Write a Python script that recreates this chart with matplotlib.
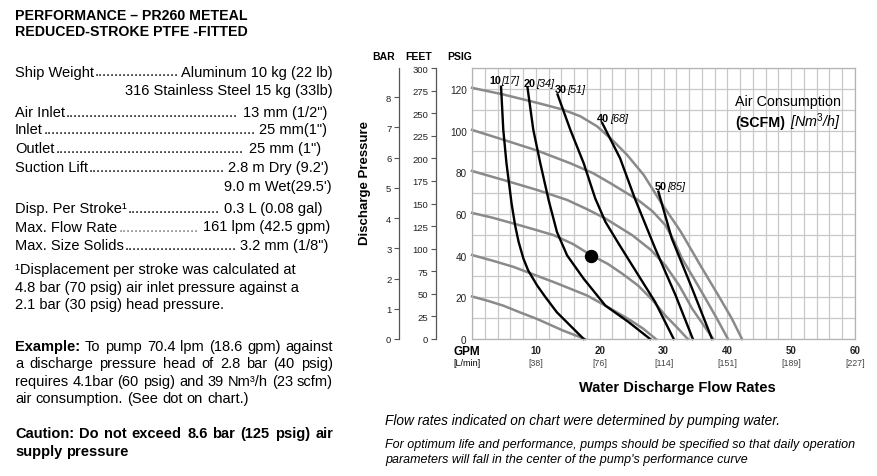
import matplotlib
matplotlib.use('Agg')
import matplotlib.pyplot as plt

plt.rcParams['font.family'] = ['Liberation Sans', 'DejaVu Sans']
plt.rcParams['mathtext.fontset'] = 'custom'
plt.rcParams['mathtext.rm'] = 'Liberation Sans'
plt.rcParams['mathtext.it'] = 'Liberation Sans:italic'
plt.rcParams['mathtext.bf'] = 'Liberation Sans:bold'

W, H = 877, 477

# ---- axis ticks ----
gpm_ticks = [10, 20, 30, 40, 50, 60]
lpm_labels = ['[38]', '[76]', '[114]', '[151]', '[189]', '[227]']
psig_ticks = [0, 20, 40, 60, 80, 100, 120]
bar_ticks = [0, 1, 2, 3, 4, 5, 6, 7, 8]
feet_ticks = [0, 25, 50, 75, 100, 125, 150, 175, 200, 225, 250, 275, 300]

# ---- air inlet pressure curves (grey), gpm vs psig ----
p20_gpm = [0, 2.5, 4.9, 7.5, 10.2, 14.3, 17.7]
p20_psig = [20.4, 18.3, 16.0, 12.8, 9.6, 4.0, 0]
p40_gpm = [0, 3.2, 6.5, 9.6, 12.8, 15.5, 18.0, 20.9, 24.5, 26.8, 28.8]
p40_psig = [40.3, 37.6, 34.6, 31.0, 27.3, 24.0, 20.9, 16.0, 9.6, 5.0, 0]
p60_gpm = [0, 3.2, 6.5, 9.6, 12.8, 15.8, 18.6, 21.3, 23.6, 26.0, 28.3, 30.3, 32.1, 33.8]
p60_psig = [60.5, 58.2, 55.4, 52.7, 49.8, 45.6, 40.3, 36.0, 31.2, 25.7, 18.6, 11.2, 5.6, 0]
p80_gpm = [0, 4.9, 10.2, 14.9, 18.0, 20.9, 25.1, 28.0, 30.3, 32.5, 34.5, 36.2, 37.8]
p80_psig = [80.6, 76.3, 71.5, 66.7, 62.3, 57.8, 49.8, 42.8, 35.3, 25.5, 14.5, 7.0, 0]
p100_gpm = [0, 4.9, 10.2, 15.4, 19.0, 21.7, 26.0, 28.3, 30.3, 31.7, 32.9, 34.8, 36.6, 38.4, 40.1]
p100_psig = [100.3, 95.6, 90.4, 84.3, 79.5, 74.7, 66.7, 61.2, 54.6, 46.8, 38.6, 28.8, 19.3, 9.6, 0]
p120_gpm = [0, 4.9, 10.2, 14.3, 17.0, 19.6, 22.0, 24.3, 26.9, 29.5, 32.7, 35.8, 38.9, 40.7, 42.3]
p120_psig = [120.5, 117.3, 113.3, 110.0, 106.8, 102.0, 95.4, 88.3, 78.7, 66.0, 51.5, 35.2, 19.3, 9.8, 0]

# ---- air consumption curves (black), gpm vs psig ----
s10_gpm = [4.55, 4.9, 5.4, 6.2, 6.75, 7.3, 8.05, 8.8, 10.2, 11.5, 13.3, 15.4, 17.5]
s10_psig = [121.0, 100.4, 84.3, 65.0, 54.6, 46.6, 38.6, 32.9, 25.7, 20.1, 12.8, 6.4, 0]
s20_gpm = [8.7, 9.6, 10.7, 12.0, 13.3, 14.9, 17.5, 20.9, 24.5, 27.9]
s20_psig = [120.5, 100.4, 84.3, 66.7, 51.4, 40.1, 28.9, 16.0, 8.2, 0]
s30_gpm = [13.4, 15.4, 17.5, 19.3, 20.9, 23.0, 25.1, 28.7, 31.6]
s30_psig = [117.3, 100.4, 84.3, 67.5, 56.2, 45.6, 35.3, 17.7, 0]
s40_gpm = [20.4, 23.2, 25.5, 28.7, 31.9, 34.6]
s40_psig = [103.6, 86.7, 67.5, 43.4, 20.9, 0]
s50_gpm = [29.2, 31.3, 34.5, 37.6]
s50_psig = [70.7, 48.2, 24.1, 0]
scfm_names = ['10', '20', '30', '40', '50']
nm3h_names = ['[17]', '[34]', '[51]', '[68]', '[85]']

# example operating point
dot_gpm = 18.6
dot_psig = 40

# ---- spec text ----
title_lines = ['PERFORMANCE \u2013 PR260 METEAL', 'REDUCED-STROKE PTFE -FITTED']
spec_labels = ['Ship Weight', 'Air Inlet', 'Inlet', 'Outlet', 'Suction Lift',
               'Disp. Per Stroke\u00b9', 'Max. Flow Rate', 'Max. Size Solids']
spec_values = ['Aluminum 10 kg (22 lb)', '13 mm (1/2")', '25 mm(1")', '25 mm (1")',
               "2.8 m Dry (9.2')", '0.3 L (0.08 gal)', '161 lpm (42.5 gpm)', '3.2 mm (1/8")']
spec_extra = ['316 Stainless Steel 15 kg (33lb)', "9.0 m Wet(29.5')"]
footnote = ['\u00b9Displacement per stroke was calculated at',
            '4.8 bar (70 psig) air inlet pressure against a',
            '2.1 bar (30 psig) head pressure.']
example = ['To pump 70.4 lpm (18.6 gpm) against',
           'a discharge pressure head of 2.8 bar (40 psig)',
           'requires 4.1bar (60 psig) and 39 Nm\u00b3/h (23 scfm)',
           'air consumption. (See dot on chart.)']
caution = ['Caution: Do not exceed 8.6 bar (125 psig) air', 'supply pressure']
notes = ['Flow rates indicated on chart were determined by pumping water.',
         'For optimum life and performance, pumps should be specified so that daily operation',
         "parameters will fall in the center of the pump's performance curve"]

fig = plt.figure(figsize=(W / 100, H / 100), dpi=100)
rend = fig.canvas.get_renderer()


def px(x, y):
    return x / W, 1 - y / H


def width(s, **kw):
    t = fig.text(0, 0, s, **kw)
    w = t.get_window_extent(rend).width
    t.remove()
    return w


def put(x, y, s, **kw):
    return fig.text(*px(x, y), s, va='baseline', **kw)


def words_line(x, y, runs, right=None, size=10.5):
    items = []
    for text, kw in runs:
        for w in text.split(' '):
            if w:
                items.append((w, dict(kw, fontsize=size)))
    widths = [width(w, **kw) for w, kw in items]
    sp = width('a a', fontsize=size) - width('aa', fontsize=size)
    if right is not None and len(items) > 1:
        sp = (right - x - sum(widths)) / (len(items) - 1)
    cx = x
    for (w, kw), wd in zip(items, widths):
        put(cx, y, w, **kw)
        cx += wd + sp


def leader(y, label, value, right, size=10.5, dotcolor='black'):
    put(15, y, label, fontsize=size)
    put(right, y, value, fontsize=size, ha='right')
    x0 = 15 + width(label, fontsize=size) + 1
    x1 = right - width(value, fontsize=size) - 2
    dot = (width('.' * 41, fontsize=size) - width('.', fontsize=size)) / 40
    n = int((x1 - x0) / dot)
    put(x0, y, '.' * n, fontsize=size, color=dotcolor)


B = dict(fontweight='bold')
N = dict()

# ---- left text block ----
put(15, 20, title_lines[0], fontsize=10.2, fontweight='bold')
put(15, 35.7, title_lines[1], fontsize=10.2, fontweight='bold')

spec_y = [76.5, 116.7, 134, 153, 172, 213, 231.5, 250]
spec_right = [333, 327, 327, 321, 329, 323, 330, 328]
for i, (lab, val, y, r) in enumerate(zip(spec_labels, spec_values, spec_y, spec_right)):
    leader(y, lab, val, r, dotcolor='#777' if i == 6 else 'black')
put(333, 95, spec_extra[0], fontsize=10.5, ha='right')
put(332, 191.5, spec_extra[1], fontsize=10.5, ha='right')

for line, y in zip(footnote, [274, 291.7, 309]):
    put(15, y, line, fontsize=10.5)

words_line(15, 350.7, [('Example:', B), (example[0], N)], right=333)
words_line(15, 368.3, [(example[1], N)], right=333)
words_line(15, 386, [(example[2], N)], right=333)
words_line(15, 403.3, [(example[3], N)])
words_line(15, 438.3, [(caution[0], B)], right=333)
words_line(15, 456, [(caution[1], B)])

# ---- chart ----
ax = fig.add_axes([472 / W, 1 - 340 / H, 383 / W, 271 / H])
ax.set_xlim(0, 60)
ax.set_ylim(0, 130)
ax.set_xticks(gpm_ticks)
ax.set_xticks(range(0, 61, 2), minor=True)
ax.set_yticks(psig_ticks)
ax.set_yticks(range(0, 131, 10), minor=True)
ax.grid(which='both', color='#c8c8c8', lw=0.9)
ax.set_axisbelow(True)
ax.tick_params(which='both', length=0)
ax.tick_params(axis='x', labelbottom=False)
ax.tick_params(axis='y', labelsize=7.2, pad=3.8, labelcolor='#222')
for s in ax.spines.values():
    s.set_color('#b4b4b4')
    s.set_linewidth(0.9)

grey = '#8a8a8a'
for g, p in [(p20_gpm, p20_psig), (p40_gpm, p40_psig), (p60_gpm, p60_psig),
             (p80_gpm, p80_psig), (p100_gpm, p100_psig), (p120_gpm, p120_psig)]:
    ax.plot(g, p, color=grey, lw=1.8, solid_joinstyle='round', clip_on=False)

scfm = [(s10_gpm, s10_psig), (s20_gpm, s20_psig), (s30_gpm, s30_psig),
        (s40_gpm, s40_psig), (s50_gpm, s50_psig)]
lab_off = [(-12, 4), (-4, 2.3), (-2.4, 2.3), (-5, 1.7), (-4, 2.6)]
for (g, p), nm, br, off in zip(scfm, scfm_names, nm3h_names, lab_off):
    ax.plot(g, p, color='black', lw=1.7, solid_joinstyle='round', clip_on=False)
    t1 = ax.annotate(nm, xy=(g[0], p[0]), xytext=off, textcoords='offset pixels',
                     fontsize=7.8, fontweight='bold', va='baseline', ha='left')
    ax.annotate(br, xy=(1, 0), xycoords=t1, xytext=(0.5, 0), textcoords='offset pixels',
                fontsize=7.8, fontstyle='italic', va='bottom', ha='left')

ax.plot(dot_gpm, dot_psig, 'o', color='black', ms=8.6)

xt = ax.get_xaxis_transform()
for g, lp in zip(gpm_ticks, lpm_labels):
    ax.annotate(str(g), xy=(g, 0), xycoords=xt, xytext=(0, -14.3), textcoords='offset pixels',
                ha='center', va='baseline', fontsize=7, fontweight='bold', color='#222')
    ax.annotate(lp, xy=(g, 0), xycoords=xt, xytext=(0, -26), textcoords='offset pixels',
                ha='center', va='baseline', fontsize=6.3, color='#444')
ax.annotate('GPM', xy=(0, 0), xycoords=xt, xytext=(-19, -15), textcoords='offset pixels',
            ha='left', va='baseline', fontsize=8.5, fontweight='bold')
ax.annotate('[L/min]', xy=(0, 0), xycoords=xt, xytext=(-19, -26), textcoords='offset pixels',
            ha='left', va='baseline', fontsize=6.5)

# bar and feet scales
bar_ax = ax.secondary_yaxis((399 - 472) / 383, functions=(lambda p: p / 14.5038, lambda b: b * 14.5038))
bar_ax.set_yticks(bar_ticks)
feet_ax = ax.secondary_yaxis((436 - 472) / 383, functions=(lambda p: p * 300 / 130, lambda f: f * 130 / 300))
feet_ax.set_yticks(feet_ticks)
for sa in (bar_ax, feet_ax):
    sa.tick_params(length=3.5, width=0.8, color='#555', labelsize=6.8, pad=2, labelcolor='#222')
    sa.spines['left'].set_color('#555')
    sa.spines['left'].set_linewidth(0.9)

put(372, 60, 'BAR', fontsize=7.5, fontweight='bold')
put(405, 60, 'FEET', fontsize=7.5, fontweight='bold')
put(447, 60, 'PSIG', fontsize=7.5, fontweight='bold')
fig.text(*px(365, 183), 'Discharge Pressure', rotation=90, ha='center', va='center',
         fontsize=9.5, fontweight='bold')

put(677, 391.7, 'Water Discharge Flow Rates', fontsize=10.5, fontweight='bold', ha='center')

put(735, 106, 'Air Consumption', fontsize=10.3)
put(735, 126.7, '(SCFM)', fontsize=10.3, fontweight='bold')
put(735 + width('(SCFM)', fontsize=10.3, fontweight='bold') + 5, 126.7,
    '[Nm$^{3}$/h]', fontsize=10.3, fontstyle='italic')

put(385, 425, notes[0], fontsize=9.8, fontstyle='italic')
put(385, 447.7, notes[1], fontsize=9, fontstyle='italic')
put(385, 463.3, notes[2], fontsize=9, fontstyle='italic')

fig.savefig('out.png', dpi=100)
